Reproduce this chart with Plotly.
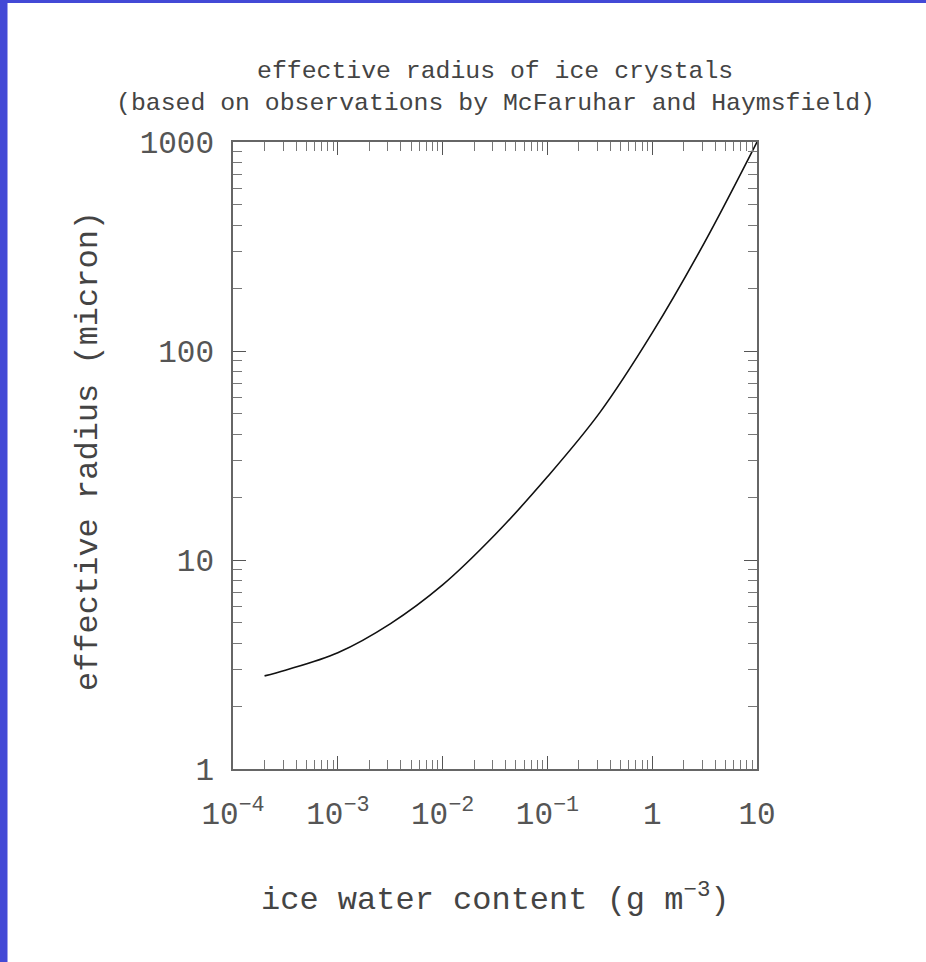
import plotly.graph_objects as go

# ---- data ----
iwc = [2.0e-4, 3.16e-4, 1.0e-3, 3.16e-3, 1.0e-2, 3.16e-2, 0.1, 0.316, 1.0, 3.16, 10.0]
reff = [2.79, 2.97, 3.6, 4.95, 7.6, 13.2, 25.0, 50.7, 122.0, 331.0, 1000.0]

x_tickvals = [1e-4, 1e-3, 1e-2, 1e-1, 1, 10]
x_ticktext = ["10<sup>\u22124</sup>", "10<sup>\u22123</sup>", "10<sup>\u22122</sup>",
              "10<sup>\u22121</sup>", "1", "10"]
y_tickvals = [1, 10, 100, 1000]
y_ticktext = ["1", "10", "100", "1000"]

title1 = "effective radius of ice crystals"
title2 = "(based on observations by McFaruhar and Haymsfield)"
xtitle = "ice water content (g m<sup>\u22123</sup>)"
ytitle = "effective radius (micron)"

# ---- layout geometry (pixels) ----
W, H = 926, 962
L, R, T, B = 233, 757, 142, 769
PW, PH = R - L, B - T

def px(xp):
    return (xp - L) / PW

def py(yp):
    return (B - yp) / PH

FONT = "Liberation Mono, Courier New, monospace"
TXT = "#444444"
BLUE = "rgb(67,73,214)"

x_minor = [m * 10.0 ** e for e in range(-4, 1) for m in range(2, 10)]
y_minor = [m * 10.0 ** e for e in range(0, 3) for m in range(2, 10)]

fig = go.Figure()
fig.add_trace(go.Scatter(x=iwc, y=reff, mode="lines",
                         line=dict(color="#111111", width=1.6, shape="spline", smoothing=1.0),
                         showlegend=False, hoverinfo="skip"))

axis_common = dict(
    showgrid=False, zeroline=False, showline=True, linecolor="#666666", linewidth=1.5,
    mirror="ticks", ticks="inside", ticklen=13, tickwidth=1, tickcolor="#555555",
    tickfont=dict(family=FONT, size=31, color="#555555"),
)

fig.update_xaxes(type="log", range=[-4, 1], tickmode="array", tickvals=x_tickvals,
                 ticktext=x_ticktext, ticklabelstandoff=16,
                 minor=dict(tickmode="array", tickvals=x_minor, ticks="inside", ticklen=9,
                            tickcolor="#777777", tickwidth=1, showgrid=False),
                 **axis_common)
fig.update_yaxes(type="log", range=[0, 3], tickmode="array", tickvals=y_tickvals,
                 ticktext=y_ticktext, ticklabelstandoff=11,
                 minor=dict(tickmode="array", tickvals=y_minor, ticks="inside", ticklen=9,
                            tickcolor="#777777", tickwidth=1, showgrid=False),
                 **axis_common)

annotations = [
    dict(text=title1, x=0.5, y=py(71), xref="paper", yref="paper", xanchor="center",
         yanchor="middle", showarrow=False, font=dict(family=FONT, size=24.8, color=TXT)),
    dict(text=title2, x=0.5, y=py(103), xref="paper", yref="paper", xanchor="center",
         yanchor="middle", showarrow=False, font=dict(family=FONT, size=24.8, color=TXT)),
    dict(text=xtitle, x=0.5, y=py(898), xref="paper", yref="paper", xanchor="center",
         yanchor="middle", showarrow=False, font=dict(family=FONT, size=32, color=TXT)),
    dict(text=ytitle, x=px(88), y=py(451), xref="paper", yref="paper", xanchor="center",
         yanchor="middle", textangle=-90, showarrow=False, font=dict(family=FONT, size=32, color=TXT)),
]

shapes = [
    dict(type="rect", xref="paper", yref="paper", x0=px(0), x1=px(7.5), y0=py(H), y1=py(0),
         fillcolor=BLUE, line=dict(width=0), layer="above"),
    dict(type="rect", xref="paper", yref="paper", x0=px(0), x1=px(W), y0=py(3), y1=py(0),
         fillcolor=BLUE, line=dict(width=0), layer="above"),
]

fig.update_layout(
    width=W, height=H, autosize=False,
    margin=dict(l=L, r=W - R, t=T, b=H - B, pad=0),
    paper_bgcolor="white", plot_bgcolor="white",
    annotations=annotations, shapes=shapes, showlegend=False,
)

fig.write_html("out.html")
